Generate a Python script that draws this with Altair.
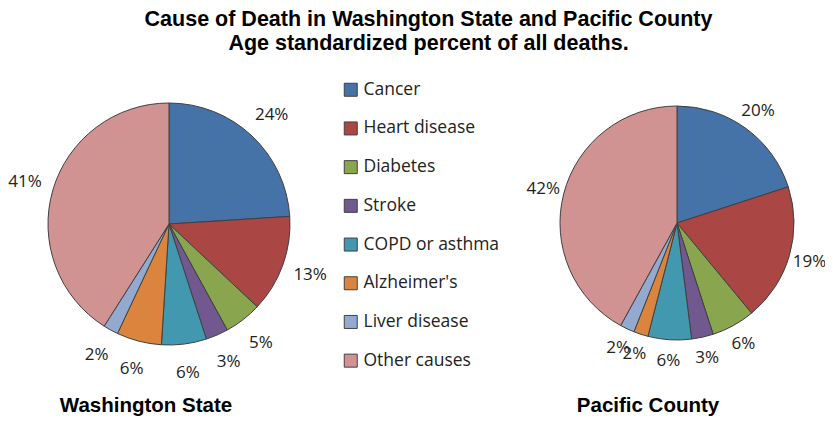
import altair as alt
import pandas as pd

causes = ["Cancer", "Heart disease", "Diabetes", "Stroke", "COPD or asthma",
          "Alzheimer's", "Liver disease", "Other causes"]
colors = ["#4572A7", "#AA4643", "#89A54E", "#71588F", "#4198AF",
          "#DB843D", "#93A9CF", "#D19392"]
wa_pct = [24, 13, 5, 3, 6, 6, 2, 41]
pc_pct = [20, 19, 6, 3, 6, 2, 2, 42]
regions = ["Washington State", "Pacific County"]
title_lines = ["Cause of Death in Washington State and Pacific County",
               "Age standardized percent of all deaths."]

rows = []
for region, vals in zip(regions, [wa_pct, pc_pct]):
    for i, (c, v) in enumerate(zip(causes, vals)):
        rows.append({"region": region, "cause": c, "pct": v, "order": i, "label": f"{v}%"})
df = pd.DataFrame(rows)
reg_df = pd.DataFrame({"region": regions})

T = 50  # title band height
LABEL_FONT = "Open Sans"
TEXT_COLOR = "#222222"

color_scale = alt.Scale(domain=causes, range=colors)


def pie(region, cx, cy, r, lr, show_legend):
    base = alt.Chart(df).transform_filter(alt.datum.region == region).encode(
        theta=alt.Theta("pct:Q", stack=True),
        order=alt.Order("order:Q"),
    )
    if show_legend:
        legend = alt.Legend(
            title=None, orient="none", legendX=333, legendY=72 - T,
            direction="vertical", symbolType="square", symbolSize=169,
            symbolStrokeColor="#404040", symbolStrokeWidth=1,
            labelFont=LABEL_FONT, labelFontSize=17.5, labelColor=TEXT_COLOR,
            rowPadding=19.7, labelOffset=4, padding=0,
        )
    else:
        legend = None
    arcs = base.mark_arc(outerRadius=r, stroke="#404040", strokeWidth=1).encode(
        x=alt.value(cx), y=alt.value(cy),
        color=alt.Color("cause:N", scale=color_scale, sort=causes, legend=legend),
    )
    labels = base.mark_text(radius=lr, font=LABEL_FONT, fontSize=17, color=TEXT_COLOR).encode(
        x=alt.value(cx), y=alt.value(cy), text="label:N",
    )
    return arcs + labels


def region_label(region, x, y):
    return alt.Chart(reg_df).transform_filter(alt.datum.region == region).mark_text(
        font="Liberation Sans", fontSize=20.5, fontWeight="bold", color="#000000",
        align="center", baseline="alphabetic",
    ).encode(text="region:N", x=alt.value(x), y=alt.value(y))


chart = alt.layer(
    pie("Washington State", 160, 215 - T, 121, 150, True),
    pie("Pacific County", 668, 214 - T, 117, 138, False),
    region_label("Washington State", 137, 403 - T),
    region_label("Pacific County", 639, 403 - T),
).properties(
    width=817, height=408,
    autosize=alt.AutoSizeParams(type="fit", contains="padding"),
    padding=0,
    title=alt.TitleParams(
        title_lines, font="Liberation Sans", fontSize=21.5, fontWeight="bold",
        anchor="middle", lineHeight=24, color="#000000", dx=12, offset=5,
    ),
).configure_view(stroke=None)

chart.save("out.html", embed_options={"renderer": "svg", "actions": False})
